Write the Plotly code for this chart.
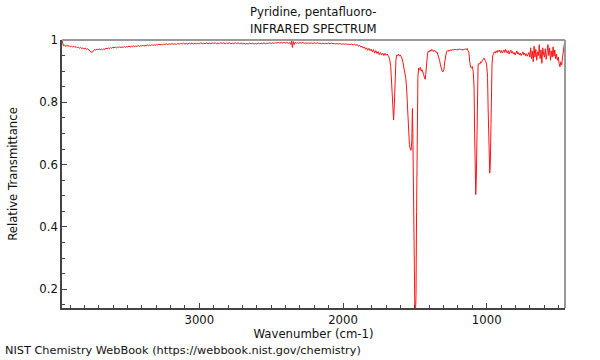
import plotly.graph_objects as go

wavenumber = [
3956,3952,3946,3938,3930,3922,3914,3906,3898,3890,3882,3874,3866,3858,3850,3842,3834,3826,3818,3810,
3802,3794,3786,3778,3770,3762,3754,3746,3738,3730,3722,3714,3706,3698,3690,3682,3674,3666,3658,3650,
3642,3634,3626,3618,3610,3602,3594,3586,3578,3570,3562,3554,3546,3538,3530,3522,3514,3506,3498,3490,
3482,3474,3466,3458,3450,3442,3434,3426,3418,3410,3402,3394,3386,3378,3370,3362,3354,3346,3338,3330,
3322,3314,3306,3298,3290,3282,3274,3266,3258,3250,3240,3230,3220,3210,3200,3190,3180,3170,3160,3150,
3140,3130,3120,3110,3100,3090,3080,3070,3060,3050,3040,3030,3020,3010,3000,2990,2980,2970,2960,2950,
2940,2930,2920,2910,2900,2890,2880,2870,2860,2850,2840,2830,2820,2810,2800,2790,2780,2770,2760,2750,
2740,2730,2720,2710,2700,2690,2680,2670,2660,2650,2640,2630,2620,2610,2600,2590,2580,2570,2560,2550,
2540,2530,2520,2510,2500,2490,2480,2470,2460,2450,2440,2430,2420,2410,2400,2390,2380,2372,2364,2358,
2352,2346,2340,2332,2324,2316,2308,2300,2290,2280,2270,2260,2250,2240,2230,2220,2210,2200,2190,2180,
2170,2160,2150,2140,2130,2120,2110,2100,2090,2080,2070,2060,2050,2040,2030,2020,2010,2000,1990,1980,
1970,1960,1950,1940,1930,1920,1910,1900,1892,1884,1876,1868,1860,1852,1844,1836,1828,1820,1812,1804,
1796,1788,1780,1772,1764,1756,1748,1740,1732,1724,1716,1708,1700,1692,1684,1676,1668,1660,1654,1648,
1643,1638,1632,1626,1620,1614,1608,1602,1596,1590,1584,1578,1572,1564,1558,1552,1546,1538,1532,1526,
1521,1517,1514,1510,1505,1500,1496,1492,1488,1484,1479,1474,1468,1462,1456,1450,1444,1438,1432,1428,
1424,1418,1412,1406,1400,1394,1388,1382,1376,1370,1364,1358,1352,1346,1340,1334,1328,1322,1316,1310,
1304,1298,1292,1286,1280,1274,1268,1262,1256,1250,1244,1238,1232,1226,1220,1214,1208,1202,1196,1190,
1184,1178,1172,1166,1160,1154,1148,1142,1136,1130,1124,1118,1112,1106,1100,1094,1088,1084,1080,1076,
1072,1068,1064,1060,1054,1048,1042,1036,1030,1024,1018,1012,1006,1000,994,990,986,982,979,975,
971,967,963,958,952,946,940,934,928,922,916,910,904,898,892,886,880,874,868,862,
856,850,844,838,832,826,820,814,808,802,796,790,784,778,772,766,760,754,748,742,
736,730,724,718,712,706,700,694,688,682,676,670,664,658,652,646,640,634,628,622,
616,610,604,598,592,586,580,574,568,562,556,550,544,538,532,526,520,514,508,502,
496,490,484,478,472,466,460,456]

transmittance = [
1.000,0.990,0.981,0.984,0.979,0.983,0.980,0.982,0.978,0.981,0.977,0.980,0.976,0.979,0.975,0.977,0.973,0.976,0.972,0.975,
0.971,0.974,0.970,0.972,0.968,0.965,0.962,0.960,0.966,0.970,0.967,0.971,0.968,0.972,0.969,0.971,0.968,0.972,0.970,0.974,
0.971,0.975,0.972,0.976,0.973,0.977,0.974,0.978,0.974,0.977,0.975,0.979,0.975,0.978,0.976,0.980,0.976,0.979,0.977,0.981,
0.977,0.980,0.978,0.982,0.978,0.981,0.979,0.983,0.979,0.982,0.980,0.984,0.980,0.983,0.981,0.985,0.981,0.984,0.982,0.986,
0.982,0.985,0.983,0.986,0.983,0.987,0.984,0.986,0.984,0.987,0.985,0.988,0.985,0.988,0.986,0.989,0.986,0.988,0.986,0.989,
0.987,0.989,0.987,0.990,0.987,0.989,0.987,0.990,0.988,0.990,0.987,0.990,0.988,0.990,0.988,0.991,0.988,0.990,0.988,0.991,
0.988,0.990,0.988,0.991,0.989,0.991,0.988,0.990,0.989,0.991,0.989,0.991,0.988,0.990,0.989,0.991,0.988,0.990,0.988,0.991,
0.989,0.991,0.988,0.990,0.988,0.990,0.987,0.989,0.987,0.990,0.988,0.990,0.987,0.989,0.987,0.990,0.988,0.990,0.988,0.991,
0.988,0.990,0.989,0.991,0.989,0.991,0.989,0.992,0.990,0.992,0.990,0.992,0.990,0.993,0.990,0.992,0.989,0.993,0.986,0.996,
0.976,0.995,0.985,0.993,0.989,0.992,0.989,0.992,0.990,0.992,0.989,0.991,0.989,0.991,0.989,0.991,0.989,0.991,0.989,0.991,
0.989,0.990,0.988,0.990,0.988,0.990,0.988,0.990,0.988,0.990,0.988,0.989,0.987,0.989,0.987,0.989,0.986,0.988,0.986,0.988,
0.985,0.987,0.985,0.987,0.984,0.986,0.983,0.985,0.980,0.983,0.977,0.980,0.974,0.978,0.970,0.975,0.967,0.973,0.966,0.971,
0.962,0.969,0.958,0.966,0.957,0.963,0.953,0.960,0.952,0.958,0.950,0.957,0.951,0.955,0.948,0.940,0.915,0.850,0.780,0.743,
0.790,0.880,0.935,0.952,0.950,0.955,0.948,0.952,0.946,0.942,0.930,0.915,0.900,0.880,0.850,0.780,0.700,0.665,0.650,0.646,
0.680,0.780,0.700,0.450,0.200,0.130,0.120,0.180,0.450,0.750,0.880,0.910,0.905,0.912,0.900,0.905,0.898,0.888,0.876,0.874,
0.890,0.930,0.955,0.965,0.962,0.968,0.964,0.970,0.966,0.963,0.968,0.965,0.960,0.962,0.955,0.948,0.935,0.920,0.908,0.900,
0.898,0.905,0.930,0.950,0.962,0.966,0.963,0.968,0.965,0.969,0.966,0.970,0.967,0.971,0.968,0.970,0.967,0.971,0.968,0.972,
0.969,0.970,0.967,0.971,0.968,0.970,0.972,0.969,0.973,0.966,0.960,0.930,0.912,0.910,0.915,0.900,0.850,0.700,0.560,0.504,
0.560,0.750,0.880,0.920,0.925,0.922,0.930,0.928,0.935,0.940,0.942,0.935,0.930,0.920,0.880,0.780,0.650,0.590,0.573,0.600,
0.720,0.850,0.920,0.950,0.958,0.962,0.958,0.965,0.960,0.967,0.963,0.968,0.960,0.966,0.958,0.963,0.968,0.960,0.970,0.962,
0.958,0.966,0.955,0.962,0.968,0.958,0.963,0.955,0.960,0.952,0.958,0.965,0.955,0.960,0.952,0.958,0.950,0.956,0.962,0.952,
0.958,0.950,0.956,0.948,0.955,0.960,0.945,0.975,0.940,0.965,0.930,0.980,0.945,0.970,0.935,0.962,0.950,0.985,0.940,0.968,
0.925,0.975,0.955,0.945,0.972,0.938,0.960,0.985,0.950,0.975,0.935,0.965,0.945,0.978,0.948,0.968,0.940,0.955,0.935,0.945,
0.925,0.914,0.930,0.920,0.945,0.975,0.990,1.000]

x_range = [3956, 455]
y_range = [0.14, 1.0]
y_tickvals = [0.2, 0.4, 0.6, 0.8, 1.0]
y_ticktext = ["0.2", "0.4", "0.6", "0.8", "1"]
x_tickvals = [3000, 2000, 1000]
x_ticktext = ["3000", "2000", "1000"]

FONT = "DejaVu Sans"

fig = go.Figure()
fig.add_trace(go.Scatter(
    x=wavenumber, y=transmittance, mode="lines",
    line=dict(color="rgb(255,20,20)", width=1),
    hoverinfo="skip", showlegend=False,
))

fig.update_layout(
    width=600, height=360,
    margin=dict(l=57, r=35, t=40, b=52),
    paper_bgcolor="white", plot_bgcolor="white",
    font=dict(family=FONT, size=12, color="#111"),
    showlegend=False,
    annotations=[
        dict(text="Pyridine, pentafluoro-", xref="paper", yref="paper", x=0.5, y=1,
             yshift=19, showarrow=False, font=dict(size=11.7, family=FONT), yanchor="bottom"),
        dict(text="INFRARED SPECTRUM", xref="paper", yref="paper", x=0.5, y=1,
             yshift=2, showarrow=False, font=dict(size=11.7, family=FONT), yanchor="bottom"),
        dict(text="NIST Chemistry WebBook (https://webbook.nist.gov/chemistry)",
             xref="paper", yref="paper", x=0, xshift=-59, y=0, yshift=-51,
             xanchor="left", yanchor="bottom", showarrow=False,
             font=dict(size=11.3, family=FONT)),
    ],
    shapes=[
        dict(type="line", xref="paper", yref="paper", x0=0, x1=1, y0=1, y1=1,
             line=dict(color="#999", width=2)),
        dict(type="line", xref="paper", yref="paper", x0=1, x1=1, y0=0, y1=1,
             line=dict(color="#999", width=2)),
    ],
)

fig.update_xaxes(
    range=x_range, showgrid=False, zeroline=False,
    showline=True, linecolor="#444", linewidth=1.5,
    ticks="inside", ticklen=5, tickcolor="#444",
    tickvals=x_tickvals, ticktext=x_ticktext,
    minor=dict(ticks="inside", ticklen=3, dtick=100, tick0=0, tickcolor="#444", showgrid=False),
    title=dict(text="Wavenumber (cm-1)", standoff=4, font=dict(size=11.7, family=FONT)),
    tickfont=dict(size=11.7, family=FONT),
)
fig.update_yaxes(
    range=y_range, showgrid=False, zeroline=False,
    showline=True, linecolor="#444", linewidth=1.5,
    ticks="inside", ticklen=5, tickcolor="#444",
    tickvals=y_tickvals, ticktext=y_ticktext,
    minor=dict(ticks="inside", ticklen=3, dtick=0.05, tick0=0, tickcolor="#444", showgrid=False),
    title=dict(text="Relative Transmittance", standoff=19, font=dict(size=11.7, family=FONT)),
    tickfont=dict(size=11.7, family=FONT),
)

fig.write_html("out.html", config={"displayModeBar": False},
               post_script="document.body.style.margin='0';document.body.style.padding='0';")
